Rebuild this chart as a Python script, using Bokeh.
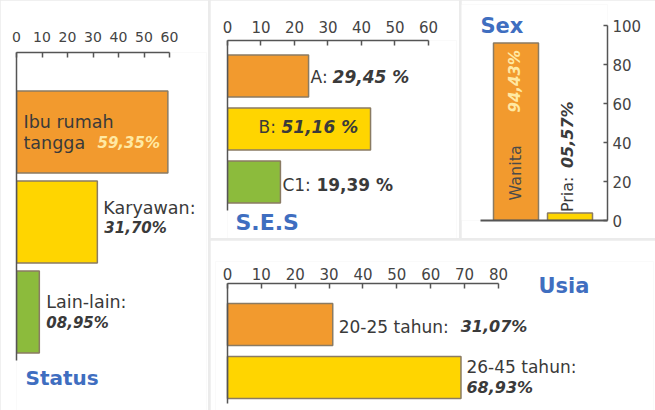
import math
from bokeh.plotting import figure
from bokeh.models import Range1d, LinearAxis, FixedTicker
from bokeh.layouts import row, column
from bokeh.core.properties import value
from bokeh.embed import file_html
from bokeh.resources import INLINE

# ---------------- data ----------------
status_cats = ["Ibu rumah tangga", "Karyawan:", "Lain-lain:"]
status_vals = [59.35, 31.70, 8.95]
status_ticks = [0, 10, 20, 30, 40, 50, 60]

ses_cats = ["A:", "B:", "C1:"]
ses_pct = [29.45, 51.16, 19.39]          # printed values
ses_bar = [24.2, 42.7, 15.8]             # bar lengths as drawn in the picture
ses_ticks = [0, 10, 20, 30, 40, 50, 60]

sex_cats = ["Wanita", "Pria:"]
sex_pct = [94.43, 5.57]
sex_bar = [91.0, 3.8]
sex_ticks = [0, 20, 40, 60, 80, 100]

usia_cats = ["20-25 tahun:", "26-45 tahun:"]
usia_vals = [31.07, 68.93]
usia_ticks = [0, 10, 20, 30, 40, 50, 60, 70, 80]

titles = ["Status", "S.E.S", "Sex", "Usia"]

# ---------------- styles ----------------
FONT = "DejaVu Sans"
F = value(FONT)
BAR_COLORS = ["#F29A2E", "#FFD500", "#8CBB3C"]
BAR_LINE = "#8a7b63"
AXIS = "#555555"
TXT = "#3a3a3a"
PALE = "#FFE9A3"
BLUE = "#3F6EC0"


def pct(v, space=""):
    return ("%05.2f" % v).replace(".", ",") + space + "%"


def base_fig(w, h, xr, yr, left, right, top, bottom):
    p = figure(width=w, height=h, x_range=xr, y_range=yr,
               output_backend="svg", toolbar_location=None,
               x_axis_location=None, y_axis_location=None,
               min_border_left=left, min_border_right=right,
               min_border_top=top, min_border_bottom=bottom)
    p.frame_align = False
    p.grid.visible = False
    p.outline_line_color = None
    p.background_fill_color = "white"
    p.border_fill_color = "white"
    return p


def tick_axis(ticks, size, standoff, tick_in=5):
    return LinearAxis(ticker=FixedTicker(ticks=ticks), bounds=(min(ticks), max(ticks)),
                      major_tick_in=tick_in, major_tick_out=0,
                      minor_tick_in=0, minor_tick_out=0,
                      major_label_standoff=standoff,
                      major_label_text_font=FONT,
                      major_label_text_font_size=size,
                      major_label_text_color="#444444",
                      axis_line_color=AXIS, axis_line_width=1.5,
                      major_tick_line_color=AXIS, major_tick_line_width=1.5)


def plain_axis(bounds, width=1.5):
    return LinearAxis(ticker=FixedTicker(ticks=[]), bounds=bounds,
                      major_tick_in=0, major_tick_out=0,
                      minor_tick_in=0, minor_tick_out=0,
                      major_label_standoff=0,
                      major_label_text_font_size="0px",
                      axis_line_color=AXIS, axis_line_width=width)


def txt(p, x, y, s, size="17px", color=TXT, style="normal", dx=0, dy=0,
        align="left", baseline="middle", angle=0):
    p.text(x=[x], y=[y], text=[s], text_font=F, text_font_size=size,
           text_color=color, text_font_style=style, x_offset=dx, y_offset=dy,
           text_align=align, text_baseline=baseline, angle=angle)


# ---------------- Status ----------------
s_idx = list(range(len(status_cats)))
ps = base_fig(208, 410, Range1d(0, 74.5), Range1d(3.094, -0.883), 16, 2, 52, 0)
ps.add_layout(tick_axis(status_ticks, "14px", 11), "above")
ps.add_layout(plain_axis((-0.883, 2.539)), "left")
ps.hbar(y=s_idx, left=0, right=status_vals, height=0.91,
        fill_color=BAR_COLORS, line_color=BAR_LINE, line_width=1.5)
l1, l2 = status_cats[0].rsplit(" ", 1)
txt(ps, 0, 0, l1, size="17.5px", dx=7, dy=-9.8)
txt(ps, 0, 0, l2, size="17.5px", dx=7, dy=11.5)
txt(ps, 0, 0, pct(status_vals[0]), size="15px", color=PALE, style="bold italic", dx=81, dy=11.5)
txt(ps, status_vals[1], 1, status_cats[1], size="17.5px", dx=6, dy=-14.5)
txt(ps, status_vals[1], 1, pct(status_vals[1]), size="15px", style="bold italic", dx=7, dy=6)
txt(ps, status_vals[2], 2, status_cats[2], size="17.5px", dx=7, dy=-10.5)
txt(ps, status_vals[2], 2, pct(status_vals[2]), size="15px", style="bold italic", dx=7, dy=10.5)
txt(ps, 0, 2, titles[0], size="20px", color=BLUE, style="bold", dx=9, dy=65.5)

# ---------------- S.E.S ----------------
e_idx = list(range(len(ses_cats)))
pe = base_fig(249, 238, Range1d(0, 68.36), Range1d(3.066, -0.670), 17, 3, 40, 0)
pe.add_layout(tick_axis(ses_ticks, "15px", 8), "above")
pe.add_layout(plain_axis((-0.670, 2.538)), "left")
pe.hbar(y=e_idx, left=0, right=ses_bar, height=0.79,
        fill_color=BAR_COLORS, line_color=BAR_LINE, line_width=1.5)
txt(pe, ses_bar[0], 0, ses_cats[0], dx=2, dy=1)
txt(pe, ses_bar[0], 0, pct(ses_pct[0], " "), size="17px", style="bold italic", dx=24, dy=1)
txt(pe, 0, 1, ses_cats[1], dx=31, dy=-2.5)
txt(pe, 0, 1, pct(ses_pct[1], " "), size="17px", style="bold italic", dx=54, dy=-2.5)
txt(pe, ses_bar[2], 2, ses_cats[2], dx=2, dy=2.5)
txt(pe, ses_bar[2], 2, pct(ses_pct[2], " "), size="17px", style="bold", dx=36, dy=2.5)
txt(pe, 0, 2, titles[1], size="22px", color=BLUE, style="bold", dx=8, dy=40.5)

# ---------------- Sex ----------------
x_idx = list(range(len(sex_cats)))
px = base_fig(194, 238, Range1d(-1.009, 1.694), Range1d(0, 110.77), 0, 48, 4, 18)
px.add_layout(tick_axis(sex_ticks, "15px", 5, tick_in=4), "right")
px.add_layout(plain_axis((-0.657, 1.694), width=2), "below")
px.vbar(x=x_idx, bottom=0, top=sex_bar, width=0.833,
        fill_color=BAR_COLORS[:2], line_color=BAR_LINE, line_width=1.5)
up = math.pi / 2
txt(px, 0, 0, sex_cats[0], size="16px", color="#4a4a4a", dx=-1, dy=-20, angle=up)
txt(px, 0, 0, pct(sex_pct[0]), size="15px", color=PALE, style="bold italic", dx=-1, dy=-108, angle=up)
txt(px, 1, sex_bar[1], sex_cats[1], size="16px", dx=-3, dy=-1, angle=up)
txt(px, 1, sex_bar[1], pct(sex_pct[1]), size="16px", style="bold italic", dx=-3, dy=-45, angle=up)
txt(px, 0, max(sex_ticks), titles[2], size="21px", color=BLUE, style="bold", dx=-35.5)

# ---------------- Usia ----------------
u_idx = list(range(len(usia_cats)))
pu = base_fig(445, 170, Range1d(-3.54, 125.76), Range1d(1.622, -1.189), 5, 2, 21, 0)
ua = tick_axis(usia_ticks, "15px", 3)
ua.fixed_location = -0.774
pu.add_layout(ua, "above")
la = plain_axis((-0.774, 1.49))
la.fixed_location = 0
pu.add_layout(la, "left")
pu.hbar(y=u_idx, left=0, right=usia_vals, height=0.79,
        fill_color=BAR_COLORS[:2], line_color=BAR_LINE, line_width=1.5)
txt(pu, usia_vals[0], 0, usia_cats[0], dx=6, dy=2)
txt(pu, usia_vals[0], 0, pct(usia_vals[0]), size="16px", style="bold italic", dx=128, dy=2)
txt(pu, usia_vals[1], 1, usia_cats[1], dx=5.5, dy=-11)
txt(pu, usia_vals[1], 1, pct(usia_vals[1]), size="16px", style="bold italic", dx=5.5, dy=9.7)
txt(pu, 0, 0, titles[3], size="21px", color=BLUE, style="bold", dx=311, dy=-39)

# ---------------- layout ----------------
right = column(row(pe, px, spacing=2), pu, spacing=2)
page = row(ps, right, spacing=2, styles={"background-color": "#ebebeb"})

open("out.html", "w").write(file_html(page, INLINE))
